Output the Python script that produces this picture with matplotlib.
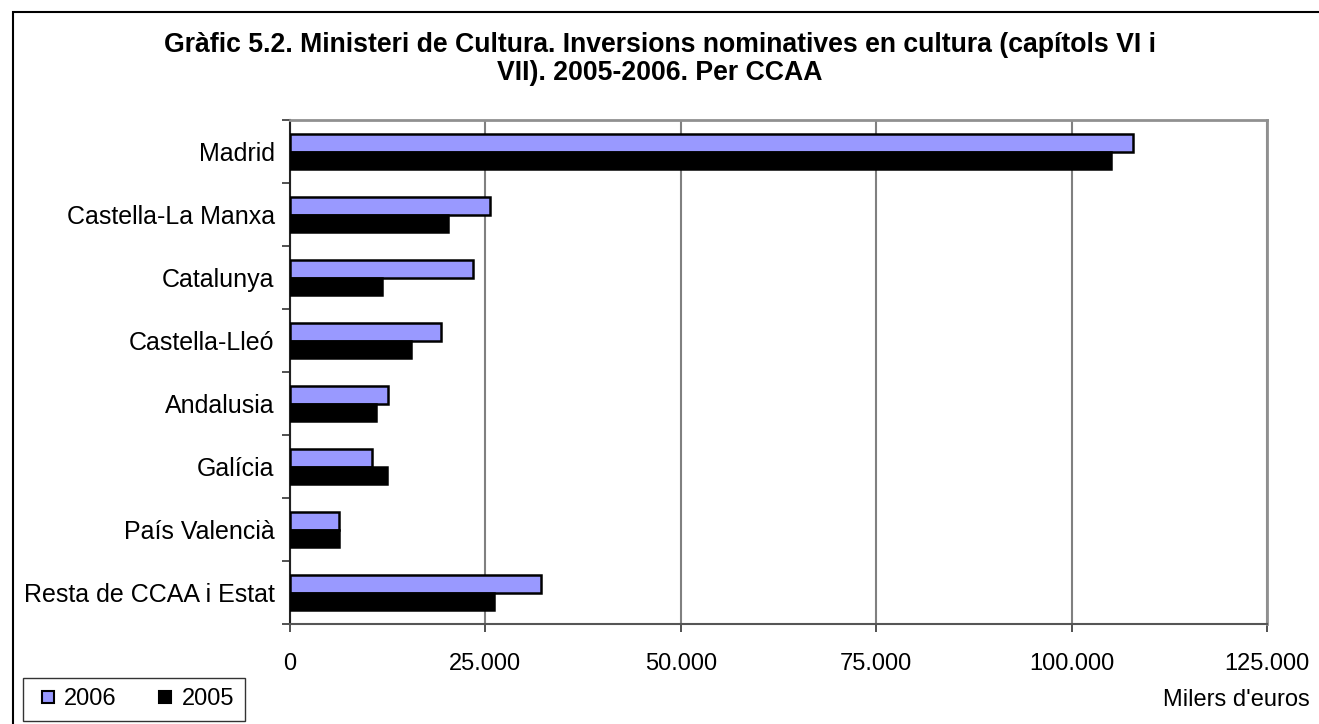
import matplotlib.pyplot as plt
from matplotlib.patches import Rectangle
from matplotlib.lines import Line2D
from matplotlib.ticker import FuncFormatter
import numpy as np

plt.rcParams['font.family'] = ['Liberation Sans', 'DejaVu Sans']

regions = ["Madrid", "Castella-La Manxa", "Catalunya", "Castella-Lleó",
           "Andalusia", "Galícia", "País Valencià", "Resta de CCAA i Estat"]
values_2006 = [107850, 25600, 23400, 19300, 12500, 10500, 6300, 32100]
values_2005 = [105000, 20200, 11750, 15500, 11000, 12400, 6300, 26100]
xticks = [0, 25000, 50000, 75000, 100000, 125000]

fig = plt.figure(figsize=(13.19, 7.24), dpi=100)
ax = fig.add_axes([290 / 1319, 1 - 624 / 724, 977 / 1319, 504 / 724])

y = np.arange(len(regions))
h = 0.28
ax.barh(y - h / 2, values_2006, height=h, color="#9999FF", edgecolor="black",
        linewidth=1.8, zorder=3)
ax.barh(y + h / 2, values_2005, height=h, color="black", edgecolor="black",
        linewidth=1.8, zorder=3)

ax.set_ylim(len(regions) - 0.5, -0.5)
ax.set_xlim(0, 125000)
ax.set_xticks(xticks)
ax.xaxis.set_major_formatter(FuncFormatter(lambda v, p: f"{int(v):,}".replace(",", ".")))
ax.set_yticks(np.arange(len(regions) + 1) - 0.5)
ax.set_yticklabels([])
ax.set_yticks(y, minor=True)
ax.set_yticklabels(regions, minor=True)
ax.tick_params(axis="y", which="major", length=6, width=1.2, direction="out", color="#333333")
ax.tick_params(axis="y", which="minor", length=0, pad=11, labelsize=18)
ax.tick_params(axis="x", length=6, width=1.2, direction="out", pad=15,
               labelsize=17, color="#333333")

ax.grid(axis="x", color="#808080", linewidth=1.5, zorder=0)
for side in ["top", "right"]:
    ax.spines[side].set_color("#909090")
    ax.spines[side].set_linewidth(2)
ax.spines["left"].set_color("#222222")
ax.spines["left"].set_linewidth(1.5)
ax.spines["bottom"].set_color("#555555")
ax.spines["bottom"].set_linewidth(1.5)
ax.set_axisbelow(True)

fig.text(0.5, 1 - 59 / 724,
         "Gràfic 5.2. Ministeri de Cultura. Inversions nominatives en cultura (capítols VI i\nVII). 2005-2006. Per CCAA",
         ha="center", va="center", fontsize=19.2, fontweight="bold", linespacing=1.08)

fig.text(1310 / 1319, 1 - 700 / 724, "Milers d'euros", ha="right", va="center", fontsize=17)

handles = [
    Line2D([], [], linestyle="none", marker="s", markersize=9,
           markerfacecolor="#9999FF", markeredgecolor="black", markeredgewidth=1.5),
    Line2D([], [], linestyle="none", marker="s", markersize=9,
           markerfacecolor="black", markeredgecolor="black", markeredgewidth=1.5),
]
fig.legend(handles, ["2006", "2005"], loc="lower left",
           bbox_to_anchor=(23 / 1319, 1 - 721 / 724), ncol=2,
           fontsize=17, frameon=True, fancybox=False, edgecolor="black",
           handlelength=1.2, handletextpad=0.1, columnspacing=1.45,
           borderpad=0.45, borderaxespad=0)

fig.patches.append(Rectangle((13 / 1319, -0.5), 2, 0.5 + 1 - 12 / 724,
                             transform=fig.transFigure, fill=False,
                             edgecolor="black", linewidth=1.5))

fig.savefig("out.png", dpi=100)
